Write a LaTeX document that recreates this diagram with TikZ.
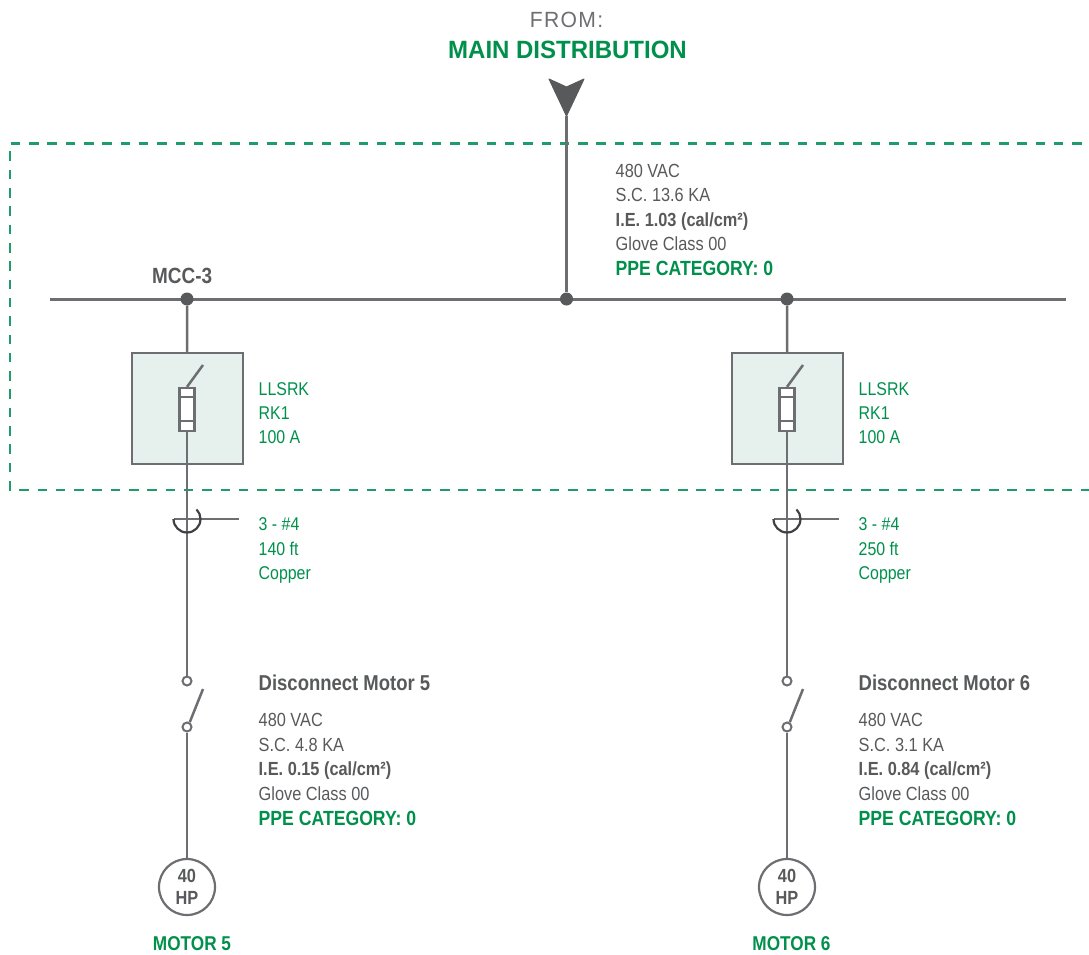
\documentclass[tikz,border=0pt]{standalone}
\usepackage{fontspec}
\setmainfont{Liberation Sans}[FakeStretch=0.86]
\newfontfamily\titlefont{Liberation Sans}[FakeStretch=0.96]
\newfontfamily\fromfont{Liberation Sans}[FakeStretch=0.96,LetterSpace=6]
\definecolor{wiregray}{HTML}{6D6E71}
\definecolor{inkgray}{HTML}{58595B}
\definecolor{cablegray}{HTML}{414042}
\definecolor{sgreen}{HTML}{00904C}
\definecolor{framegreen}{HTML}{1E9C69}
\definecolor{boxfill}{HTML}{E6F1ED}
\tikzset{
  wire/.style={draw=wiregray, line width=2.5pt},
  busdot/.style={circle, fill=inkgray, inner sep=0pt, minimum size=13pt},
  fusebox/.style={draw=wiregray, fill=boxfill, line width=2.5pt, minimum size=111pt, inner sep=0pt},
  fuselink/.style={draw=wiregray, fill=white, line width=2.2pt, minimum width=15pt, minimum height=43pt, inner sep=0pt},
  contact/.style={circle, draw=wiregray, fill=white, line width=2pt, inner sep=0pt, minimum size=9pt},
  motor/.style={circle, draw=wiregray, fill=white, line width=2.2pt, minimum size=56pt, inner sep=0pt,
    align=center, text=inkgray, font=\fontsize{19}{21.5}\selectfont\bfseries},
  info/.style={anchor=base west, inner sep=0pt, text=inkgray, font=\fontsize{19}{19}\selectfont},
  infobold/.style={info, font=\fontsize{19}{19}\selectfont\bfseries},
  ppe/.style={info, text=sgreen, font=\fontsize{20.5}{20}\selectfont\bfseries},
  spec/.style={info, text=sgreen, font=\fontsize{18.5}{19}\selectfont},
  heading/.style={info, font=\fontsize{22}{22}\selectfont\bfseries},
  motorname/.style={anchor=base, inner sep=0pt, text=sgreen, font=\fontsize{20}{20}\selectfont\bfseries}
}

\begin{document}
\begin{tikzpicture}[x=1pt,y=-1pt]
  %%%%% START %%%%%
  \def\xa{187}
  \def\xb{787}
  \def\xm{566.5}
  \def\ybus{299}
  \useasboundingbox (0,0) rectangle (1089,955);

  % MCC frame, open to the right
  \draw[framegreen, line width=2.2pt, dash pattern=on 9.5pt off 8.8pt] (1100,143.5) -- (10,143.5) -- (10,490) -- (1100,490);

  % incoming feeder
  \node[anchor=base, inner sep=0pt, text=wiregray, font=\fromfont\fontsize{22}{22}\selectfont] (from) at (\xm,28) {FROM:};
  \node[anchor=base, inner sep=0pt, text=sgreen, font=\titlefont\fontsize{25}{25}\selectfont\bfseries] (maindist) at (567.5,59) {MAIN DISTRIBUTION};
  \draw[inkgray, fill=inkgray, line width=1pt, line join=round] (549,79) -- (\xm,87) -- (584,79) -- (\xm,116) -- cycle;
  \coordinate (feedtip) at (\xm,116);

  % bus
  \coordinate (busL) at (50,\ybus);
  \coordinate (busR) at (1066,\ybus);
  \draw[wire, line width=3pt] (busL) -- (busR);
  \node[busdot] (tap5) at (\xa,\ybus) {};
  \node[busdot] (tapmain) at (\xm,\ybus) {};
  \node[busdot] (tap6) at (\xb,\ybus) {};
  \draw[wire] (feedtip) -- (tapmain);
  \node[heading] (mcc) at (152,283) {MCC-3};

  \node[info] (bus1) at (615.5,177) {480 VAC};
  \node[info] (bus2) at (615.5,201.5) {S.C. 13.6 KA};
  \node[infobold] (bus3) at (615.5,226) {I.E. 1.03 (cal/cm²)};
  \node[info] (bus4) at (615.5,250.5) {Glove Class 00};
  \node[ppe] (bus5) at (615.5,275.5) {PPE CATEGORY: 0};

  % feeder to motor 5
  \node[fusebox] (fuse5) at (\xa+0.5,408.5) {};
  \draw[wire] (tap5) -- (fuse5);
  \node[fuselink] (link5) at (\xa,409.5) {};
  \draw[wire, line width=2pt] (\xa-7.5,397) -- (\xa+7.5,397) (\xa-7.5,421) -- (\xa+7.5,421);
  \coordinate (blade5a) at (\xa+16,365);
  \draw[wire] (link5.north) -- (blade5a);
  \node[contact] (sw5t) at (\xa,681) {};
  \node[contact] (sw5b) at (\xa,727) {};
  \draw[wire] (link5) -- (sw5t);
  \draw[wire] (\xa-13,519) -- (\xa+52,519);
  \draw[cablegray, line width=2.2pt] (\xa-13.5,519) arc (180:-45:13.5);
  \coordinate (blade5b) at (\xa+16,689);
  \draw[wire] (sw5b.60) -- (blade5b);
  \node[motor] (mot5) at (\xa,887) {40\\HP};
  \draw[wire] (sw5b) -- (mot5);
  \node[motorname] (name5) at (192,950) {MOTOR 5};

  \node[spec] (fuse5a) at (258.5,395) {LLSRK};
  \node[spec] (fuse5b) at (258.5,419.3) {RK1};
  \node[spec] (fuse5c) at (258.5,443.6) {100 A};
  \node[spec] (cable5a) at (258.5,530.7) {3 - \#4};
  \node[spec] (cable5b) at (258.5,555) {140 ft};
  \node[spec] (cable5c) at (258.5,579.3) {Copper};
  \node[heading, font=\fontsize{21.5}{22}\selectfont\bfseries] (disc5) at (258.5,690) {Disconnect Motor 5};
  \node[info] (disc5a) at (258.5,726.5) {480 VAC};
  \node[info] (disc5b) at (258.5,751) {S.C. 4.8 KA};
  \node[infobold] (disc5c) at (258.5,775.5) {I.E. 0.15 (cal/cm²)};
  \node[info] (disc5d) at (258.5,800) {Glove Class 00};
  \node[ppe] (disc5e) at (258.5,825) {PPE CATEGORY: 0};

  % feeder to motor 6
  \node[fusebox] (fuse6) at (\xb+0.5,408.5) {};
  \draw[wire] (tap6) -- (fuse6);
  \node[fuselink] (link6) at (\xb,409.5) {};
  \draw[wire, line width=2pt] (\xb-7.5,397) -- (\xb+7.5,397) (\xb-7.5,421) -- (\xb+7.5,421);
  \coordinate (blade6a) at (\xb+16,365);
  \draw[wire] (link6.north) -- (blade6a);
  \node[contact] (sw6t) at (\xb,681) {};
  \node[contact] (sw6b) at (\xb,727) {};
  \draw[wire] (link6) -- (sw6t);
  \draw[wire] (\xb-13,519) -- (\xb+52,519);
  \draw[cablegray, line width=2.2pt] (\xb-13.5,519) arc (180:-45:13.5);
  \coordinate (blade6b) at (\xb+16,689);
  \draw[wire] (sw6b.60) -- (blade6b);
  \node[motor] (mot6) at (\xb,887) {40\\HP};
  \draw[wire] (sw6b) -- (mot6);
  \node[motorname] (name6) at (791.5,950) {MOTOR 6};

  \node[spec] (fuse6a) at (858.5,395) {LLSRK};
  \node[spec] (fuse6b) at (858.5,419.3) {RK1};
  \node[spec] (fuse6c) at (858.5,443.6) {100 A};
  \node[spec] (cable6a) at (858.5,530.7) {3 - \#4};
  \node[spec] (cable6b) at (858.5,555) {250 ft};
  \node[spec] (cable6c) at (858.5,579.3) {Copper};
  \node[heading, font=\fontsize{21.5}{22}\selectfont\bfseries] (disc6) at (858.5,690) {Disconnect Motor 6};
  \node[info] (disc6a) at (858.5,726.5) {480 VAC};
  \node[info] (disc6b) at (858.5,751) {S.C. 3.1 KA};
  \node[infobold] (disc6c) at (858.5,775.5) {I.E. 0.84 (cal/cm²)};
  \node[info] (disc6d) at (858.5,800) {Glove Class 00};
  \node[ppe] (disc6e) at (858.5,825) {PPE CATEGORY: 0};
  %%%%% END %%%%%
\end{tikzpicture}
\end{document}
